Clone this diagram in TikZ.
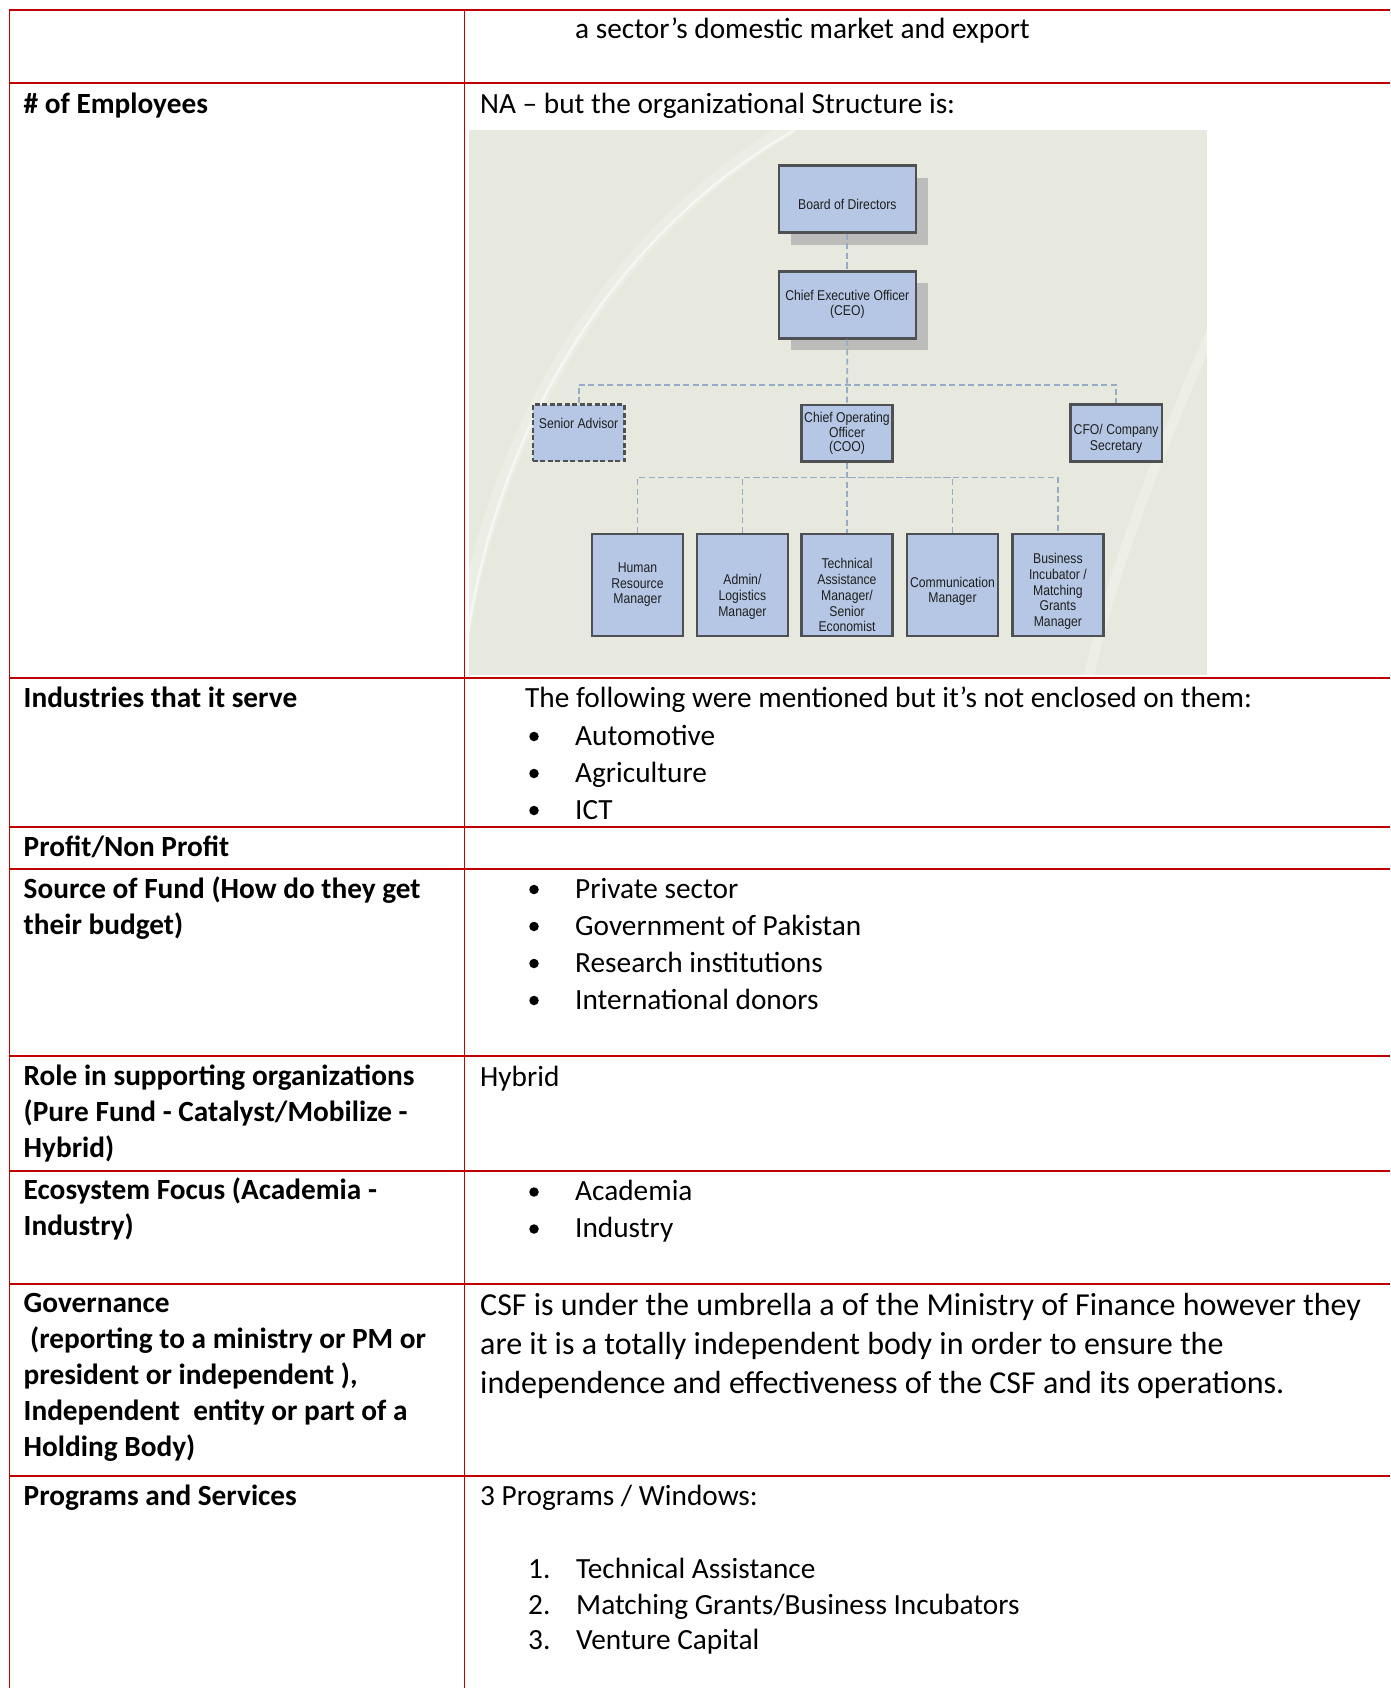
\documentclass[tikz,border=0pt]{standalone}
\usepackage{fontspec}
\setmainfont{Carlito}
\newfontfamily\orgfont[FakeStretch=0.86]{Liberation Sans}
\usetikzlibrary{shadows}

\definecolor{tablered}{RGB}{192,0,0}
\definecolor{chartbg}{RGB}{232,233,222}
\definecolor{boxblue}{RGB}{181,199,228}
\definecolor{boxedge}{RGB}{78,80,84}
\definecolor{linkblue}{RGB}{150,172,198}
\definecolor{shadowgray}{RGB}{188,188,186}

\newcommand{\boxlines}[2]{\raisebox{#1}[\height][\depth]{\begin{tabular}{@{}c@{}}#2\end{tabular}}}

\tikzset{
  rule/.style={draw=tablered, line width=1.6pt},
  txt/.style={anchor=base west, inner sep=0pt, font=\fontsize{29.3}{36.8}\selectfont},
  head/.style={anchor=base west, inner sep=0pt, text width=430pt, align=flush left,
    font=\fontsize{29.3}{36.1}\selectfont\bfseries},
  dot/.style={circle, fill=black, inner sep=0pt, minimum size=9.5pt},
  orgbox/.style={rectangle, draw=boxedge, line width=2.6pt, fill=boxblue, inner sep=0pt,
    text=black!88, font=\orgfont\fontsize{14.2}{15.8}\selectfont},
  topbox/.style={orgbox, minimum width=137pt, minimum height=67pt,
    drop shadow={shadow xshift=12pt, shadow yshift=-12pt, opacity=1, fill=shadowgray}},
  midbox/.style={orgbox, minimum width=91.5pt, minimum height=56.5pt},
  lowbox/.style={orgbox, minimum width=91pt, minimum height=102pt},
  link/.style={draw=linkblue, line width=1.8pt, dash pattern=on 6pt off 3.5pt}
}

\begin{document}
\begin{tikzpicture}[x=1pt, y=-1pt]
  \useasboundingbox (0,0) rectangle (1390,1688);
  \fill[white] (0,0) rectangle (1390,1688);

  % org chart picture
  \fill[chartbg] (469,130) rectangle (1207,675);
  \begin{scope}
    \clip (469,130) rectangle (1207,675);
    \draw[white, line width=14pt, opacity=.2] (462,640) .. controls (495,430) and (610,235) .. (790,128);
    \draw[white, line width=2.5pt, opacity=.55] (468,632) .. controls (500,425) and (615,232) .. (795,130);
    \draw[white, line width=10pt, opacity=.25] (1212,330) .. controls (1160,450) and (1115,560) .. (1088,680);
  \end{scope}

  \node[topbox] (bod) at (847.3,199.2) {\boxlines{-7.5pt}{Board of Directors}};
  \node[topbox] (ceo) at (847.3,304.8) {\boxlines{0pt}{Chief Executive Officer\\(CEO)}};
  \node[midbox, dash pattern=on 5pt off 2.5pt] (adv) at (578.6,432.8) {\boxlines{7pt}{Senior Advisor}};
  \node[midbox] (coo) at (847,433.1) {\fontsize{14.2}{13.8}\selectfont\boxlines{-1pt}{Chief Operating\\Officer\\(COO)}};
  \node[midbox] (cfo) at (1116.1,433) {\boxlines{-6.6pt}{CFO/ Company\\Secretary}};
  \node[lowbox] (hrm) at (637.5,584.9) {\boxlines{0pt}{Human\\Resource\\Manager}};
  \node[lowbox] (adm) at (742.4,584.9) {\boxlines{-12.5pt}{Admin/\\Logistics\\Manager}};
  \node[lowbox] (tam) at (847,584.9) {\boxlines{-12.3pt}{Technical\\Assistance\\Manager/\\Senior\\Economist}};
  \node[lowbox] (com) at (952.5,584.9) {\boxlines{-7pt}{Communication\\Manager}};
  \node[lowbox] (bim) at (1057.9,584.9) {\boxlines{-7pt}{Business\\Incubator /\\Matching\\Grants\\Manager}};

  \coordinate (hubtop) at (847.3,384.6);
  \coordinate (hublow) at (847,477.5);
  \draw[link] (bod.south) -- (ceo.north);
  \draw[link] (ceo.south) -- (coo.north);
  \draw[link] (adv.north) |- (hubtop) -| (cfo.north);
  \draw[link] (coo.south) -- (tam.north);
  \draw[link] (hrm.north) |- (hublow) -| (bim.north);
  \draw[link] (adm.north) |- (hublow);
  \draw[link] (com.north) |- (hublow);

  % table rules
  \draw[rule] (9.5,1688) -- (9.5,10) -- (1390,10);
  \draw[rule] (464.5,10) -- (464.5,1688);
  \draw[rule] (9.5,83) -- (1390,83);
  \draw[rule] (9.5,678) -- (1390,678);
  \draw[rule] (9.5,827) -- (1390,827);
  \draw[rule] (9.5,869) -- (1390,869);
  \draw[rule] (9.5,1056) -- (1390,1056);
  \draw[rule] (9.5,1171) -- (1390,1171);
  \draw[rule] (9.5,1284) -- (1390,1284);
  \draw[rule] (9.5,1476) -- (1390,1476);

  \node[txt] (topcell) at (575,39) {a sector’s domestic market and export};

  \node[head] (employees) at (23.5,113.5) {\# of Employees};
  \node[txt] (employeesval) at (480,113.5) {NA – but the organizational Structure is:};

  \node[head] (industries) at (23.5,707) {Industries that it serve};
  \node[txt] (industriesval) at (525,707) {The following were mentioned but it’s not enclosed on them:};
  \node[dot] (indA) at (534,736.5) {};
  \node[txt] (automotive) at (575,745) {Automotive};
  \node[dot] (indB) at (534,773.5) {};
  \node[txt] (agriculture) at (575,782) {Agriculture};
  \node[dot] (indC) at (534,810.5) {};
  \node[txt] (ict) at (575,819) {ICT};

  \node[head] (profit) at (23.5,856.5) {Profit/Non Profit};

  \node[head] (fund) at (23.5,898) {Source of Fund (How do they get\\their budget)};
  \node[dot] (fundA) at (534,889.5) {};
  \node[txt] (private) at (575,898) {Private sector};
  \node[dot] (fundB) at (534,926.5) {};
  \node[txt] (government) at (575,935) {Government of Pakistan};
  \node[dot] (fundC) at (534,963.5) {};
  \node[txt] (research) at (575,972) {Research institutions};
  \node[dot] (fundD) at (534,1000.5) {};
  \node[txt] (donors) at (575,1009) {International donors};

  \node[head] (role) at (23.5,1085) {Role in supporting organizations\\(Pure Fund - Catalyst/Mobilize -\\Hybrid)};
  \node[txt] (roleval) at (480,1086) {Hybrid};

  \node[head] (focus) at (23.5,1199) {Ecosystem Focus (Academia -\\Industry)};
  \node[dot] (focusA) at (534,1192) {};
  \node[txt] (academia) at (575,1200.5) {Academia};
  \node[dot] (focusB) at (534,1229) {};
  \node[txt] (industry) at (575,1237.5) {Industry};

  \node[head] (governance) at (23.5,1312) {Governance\\\hspace*{6.5pt}(reporting to a ministry or PM or\\president or independent ),\\Independent\ \ entity or part of a\\Holding Body)};
  \node[txt, text width=920pt, align=flush left, font=\fontsize{32}{39}\selectfont] (governanceval) at (480,1315)
    {CSF is under the umbrella a of the Ministry of Finance however they\\are it is a totally independent body in order to ensure the\\independence and effectiveness of the CSF and its operations.};

  \node[head] (programs) at (23.5,1505) {Programs and Services};
  \node[txt] (programsval) at (480,1505) {3 Programs / Windows:};
  \node[txt] (numA) at (528,1578.5) {1.};
  \node[txt] (technical) at (576,1578.5) {Technical Assistance};
  \node[txt] (numB) at (528,1614) {2.};
  \node[txt] (matching) at (576,1614) {Matching Grants/Business Incubators};
  \node[txt] (numC) at (528,1649.5) {3.};
  \node[txt] (venture) at (576,1649.5) {Venture Capital};
\end{tikzpicture}
\end{document}
